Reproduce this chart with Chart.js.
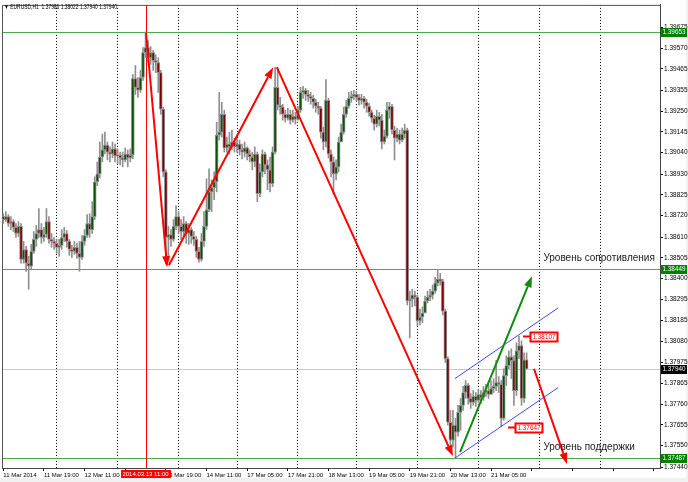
<!DOCTYPE html>
<html>
<head>
<meta charset="utf-8">
<style>
  html, body { margin: 0; padding: 0; background: #fff; }
  canvas { display: block; }
</style>
<script src="https://cdn.jsdelivr.net/npm/chart.js@4.4.1/dist/chart.umd.min.js"></script>
</head>
<body>
<canvas id="chart" width="688" height="482"></canvas>
<script>
// EURUSD H1, 11 Mar 2014 03:00 .. 21 Mar 2014 17:00, one entry per hourly bar
const symbolTitle = '\u25BC EURUSD,H1  1.37986 1.38022 1.37940 1.37940';

const opens = [
  1.38714, 1.38699, 1.38714, 1.38679, 1.38689, 1.38659, 1.38628, 1.38664, 1.38497, 1.38547,
  1.38477, 1.38462, 1.38537, 1.38598, 1.38628, 1.38648, 1.38608, 1.38623, 1.38689, 1.38598,
  1.38588, 1.38578, 1.38558, 1.38568, 1.38608, 1.38628, 1.38588, 1.38547, 1.38537, 1.38558,
  1.38527, 1.38507, 1.38588, 1.38618, 1.38679, 1.38648, 1.38714, 1.38891, 1.38931, 1.39017,
  1.39053, 1.39078, 1.39042, 1.39032, 1.39058, 1.39022, 1.39027, 1.39012, 1.39002, 1.39032,
  1.39012, 1.39027, 1.39416, 1.39371, 1.39356, 1.39421, 1.39547, 1.39573, 1.39522, 1.39547,
  1.39507, 1.39497, 1.39446, 1.39260, 1.38941, 1.38608, 1.38623, 1.38598, 1.38664, 1.38714,
  1.38664, 1.38638, 1.38679, 1.38628, 1.38648, 1.38613, 1.38598, 1.38537, 1.38497, 1.38588,
  1.38664, 1.38749, 1.38840, 1.38861, 1.38891, 1.39128, 1.39143, 1.39234, 1.39063, 1.39083,
  1.39068, 1.39093, 1.39068, 1.39083, 1.39053, 1.39042, 1.39063, 1.39032, 1.39017, 1.38992,
  1.39032, 1.38830, 1.38941, 1.39032, 1.38977, 1.38952, 1.38881, 1.39042, 1.39371, 1.39280,
  1.39270, 1.39234, 1.39214, 1.39234, 1.39204, 1.39224, 1.39209, 1.39255, 1.39345, 1.39356,
  1.39335, 1.39325, 1.39315, 1.39295, 1.39275, 1.39265, 1.39143, 1.39093, 1.39305, 1.39032,
  1.38992, 1.38931, 1.38967, 1.39093, 1.39143, 1.39234, 1.39275, 1.39315, 1.39325, 1.39335,
  1.39320, 1.39305, 1.39315, 1.39295, 1.39275, 1.39244, 1.39214, 1.39184, 1.39224, 1.39204,
  1.39093, 1.39123, 1.39255, 1.39275, 1.39154, 1.39113, 1.39133, 1.39103, 1.39133, 1.39154,
  1.38285, 1.38295, 1.38315, 1.38305, 1.38184, 1.38204, 1.38224, 1.38285, 1.38305, 1.38315,
  1.38335, 1.38376, 1.38396, 1.38386, 1.38234, 1.37992, 1.37669, 1.37578, 1.37654, 1.37618,
  1.37719, 1.37755, 1.37820, 1.37856, 1.37790, 1.37770, 1.37800, 1.37780, 1.37810, 1.37795,
  1.37820, 1.37830, 1.37810, 1.37840, 1.37851, 1.37871, 1.37861, 1.37689, 1.37906, 1.37957,
  1.38002, 1.37982, 1.37830, 1.38032, 1.38058, 1.37790, 1.37986
];
const highs = [
  1.38729, 1.38739, 1.38724, 1.38714, 1.38699, 1.38679, 1.38689, 1.38679, 1.38588, 1.38563,
  1.38512, 1.38573, 1.38638, 1.38669, 1.38755, 1.38679, 1.38659, 1.38755, 1.38714, 1.38628,
  1.38608, 1.38598, 1.38598, 1.38648, 1.38659, 1.38643, 1.38598, 1.38568, 1.38588, 1.38578,
  1.38588, 1.38618, 1.38648, 1.38724, 1.38729, 1.38790, 1.38916, 1.38992, 1.39093, 1.39133,
  1.39143, 1.39093, 1.39068, 1.39093, 1.39083, 1.39058, 1.39042, 1.39042, 1.39063, 1.39053,
  1.39058, 1.39436, 1.39482, 1.39421, 1.39457, 1.39573, 1.39653, 1.39608, 1.39578, 1.39558,
  1.39537, 1.39522, 1.39457, 1.39270, 1.38952, 1.38664, 1.38648, 1.38699, 1.38770, 1.38739,
  1.38699, 1.38714, 1.38689, 1.38679, 1.38659, 1.38638, 1.38613, 1.38558, 1.38628, 1.38739,
  1.38906, 1.38957, 1.38901, 1.38941, 1.39194, 1.39345, 1.39295, 1.39255, 1.39118, 1.39143,
  1.39154, 1.39113, 1.39113, 1.39103, 1.39083, 1.39093, 1.39068, 1.39053, 1.39042, 1.39068,
  1.39042, 1.38982, 1.39053, 1.39042, 1.39002, 1.39017, 1.39068, 1.39472, 1.39472, 1.39320,
  1.39285, 1.39255, 1.39265, 1.39255, 1.39255, 1.39244, 1.39275, 1.39371, 1.39376, 1.39366,
  1.39356, 1.39345, 1.39330, 1.39310, 1.39295, 1.39275, 1.39169, 1.39411, 1.39315, 1.39053,
  1.39017, 1.39002, 1.39118, 1.39184, 1.39270, 1.39305, 1.39345, 1.39351, 1.39356, 1.39351,
  1.39335, 1.39335, 1.39325, 1.39310, 1.39290, 1.39255, 1.39229, 1.39255, 1.39244, 1.39234,
  1.39154, 1.39295, 1.39295, 1.39285, 1.39174, 1.39164, 1.39154, 1.39164, 1.39184, 1.39164,
  1.38335, 1.38345, 1.38335, 1.38315, 1.38244, 1.38255, 1.38310, 1.38335, 1.38345, 1.38366,
  1.38406, 1.38446, 1.38426, 1.38396, 1.38244, 1.38002, 1.37729, 1.37729, 1.37689, 1.37755,
  1.37790, 1.37851, 1.37881, 1.37866, 1.37815, 1.37830, 1.37820, 1.37835, 1.37830, 1.37851,
  1.37861, 1.37861, 1.37881, 1.37891, 1.37982, 1.37901, 1.37881, 1.37941, 1.38007, 1.38032,
  1.38042, 1.38007, 1.38073, 1.38107, 1.38083, 1.38022, 1.38022
];
const lows = [
  1.38679, 1.38689, 1.38664, 1.38648, 1.38638, 1.38608, 1.38613, 1.38477, 1.38477, 1.38436,
  1.38345, 1.38446, 1.38527, 1.38563, 1.38608, 1.38578, 1.38588, 1.38608, 1.38578, 1.38558,
  1.38547, 1.38527, 1.38512, 1.38547, 1.38588, 1.38558, 1.38517, 1.38507, 1.38522, 1.38502,
  1.38436, 1.38497, 1.38568, 1.38608, 1.38608, 1.38628, 1.38699, 1.38871, 1.38911, 1.38992,
  1.39032, 1.39002, 1.38992, 1.39012, 1.38992, 1.38982, 1.38977, 1.38967, 1.38992, 1.38967,
  1.38992, 1.39007, 1.39335, 1.39320, 1.39345, 1.39406, 1.39522, 1.39497, 1.39487, 1.39457,
  1.39446, 1.39345, 1.39234, 1.38916, 1.38472, 1.38512, 1.38563, 1.38588, 1.38648, 1.38628,
  1.38598, 1.38613, 1.38578, 1.38573, 1.38578, 1.38568, 1.38507, 1.38482, 1.38487, 1.38563,
  1.38648, 1.38739, 1.38739, 1.38800, 1.38840, 1.39103, 1.39118, 1.39042, 1.39042, 1.39032,
  1.39053, 1.39042, 1.39042, 1.39027, 1.39007, 1.39017, 1.39002, 1.38992, 1.38952, 1.38967,
  1.38790, 1.38815, 1.38916, 1.38931, 1.38851, 1.38840, 1.38866, 1.39032, 1.39255, 1.39234,
  1.39204, 1.39194, 1.39204, 1.39184, 1.39194, 1.39184, 1.39204, 1.39244, 1.39315, 1.39305,
  1.39300, 1.39285, 1.39265, 1.39244, 1.39234, 1.39113, 1.39053, 1.39068, 1.39012, 1.38916,
  1.38825, 1.38901, 1.38941, 1.39093, 1.39133, 1.39219, 1.39265, 1.39295, 1.39310, 1.39300,
  1.39280, 1.39285, 1.39265, 1.39244, 1.39224, 1.39194, 1.39154, 1.39169, 1.39174, 1.39058,
  1.39083, 1.39113, 1.39214, 1.39133, 1.39002, 1.39093, 1.39083, 1.39093, 1.39113, 1.38265,
  1.38098, 1.38255, 1.38260, 1.38159, 1.38164, 1.38174, 1.38224, 1.38275, 1.38285, 1.38295,
  1.38325, 1.38361, 1.38366, 1.38214, 1.37972, 1.37654, 1.37553, 1.37542, 1.37487, 1.37598,
  1.37628, 1.37729, 1.37790, 1.37760, 1.37739, 1.37755, 1.37749, 1.37770, 1.37765, 1.37780,
  1.37800, 1.37790, 1.37810, 1.37820, 1.37830, 1.37820, 1.37647, 1.37679, 1.37856, 1.37941,
  1.37891, 1.37755, 1.37805, 1.37992, 1.37755, 1.37770, 1.37940
];
const closes = [
  1.38699, 1.38714, 1.38679, 1.38689, 1.38659, 1.38628, 1.38664, 1.38497, 1.38547, 1.38477,
  1.38462, 1.38537, 1.38598, 1.38628, 1.38648, 1.38608, 1.38623, 1.38689, 1.38598, 1.38588,
  1.38578, 1.38558, 1.38568, 1.38608, 1.38628, 1.38588, 1.38547, 1.38537, 1.38558, 1.38527,
  1.38507, 1.38588, 1.38618, 1.38679, 1.38648, 1.38714, 1.38891, 1.38931, 1.39017, 1.39053,
  1.39078, 1.39042, 1.39032, 1.39058, 1.39022, 1.39027, 1.39012, 1.39002, 1.39032, 1.39012,
  1.39027, 1.39416, 1.39371, 1.39356, 1.39421, 1.39547, 1.39573, 1.39522, 1.39547, 1.39507,
  1.39497, 1.39446, 1.39260, 1.38941, 1.38608, 1.38623, 1.38598, 1.38664, 1.38714, 1.38664,
  1.38638, 1.38679, 1.38628, 1.38648, 1.38613, 1.38598, 1.38537, 1.38497, 1.38588, 1.38664,
  1.38749, 1.38840, 1.38861, 1.38891, 1.39128, 1.39143, 1.39234, 1.39063, 1.39083, 1.39068,
  1.39093, 1.39068, 1.39083, 1.39053, 1.39042, 1.39063, 1.39032, 1.39017, 1.38992, 1.39032,
  1.38830, 1.38941, 1.39032, 1.38977, 1.38952, 1.38881, 1.39042, 1.39371, 1.39280, 1.39270,
  1.39234, 1.39214, 1.39234, 1.39204, 1.39224, 1.39209, 1.39255, 1.39345, 1.39356, 1.39335,
  1.39325, 1.39315, 1.39295, 1.39275, 1.39265, 1.39143, 1.39093, 1.39305, 1.39032, 1.38992,
  1.38931, 1.38967, 1.39093, 1.39143, 1.39234, 1.39275, 1.39315, 1.39325, 1.39335, 1.39320,
  1.39305, 1.39315, 1.39295, 1.39275, 1.39244, 1.39214, 1.39184, 1.39224, 1.39204, 1.39093,
  1.39123, 1.39255, 1.39275, 1.39154, 1.39113, 1.39133, 1.39103, 1.39133, 1.39154, 1.38285,
  1.38295, 1.38315, 1.38305, 1.38184, 1.38204, 1.38224, 1.38285, 1.38305, 1.38315, 1.38335,
  1.38376, 1.38396, 1.38386, 1.38234, 1.37992, 1.37669, 1.37578, 1.37654, 1.37618, 1.37719,
  1.37755, 1.37820, 1.37856, 1.37790, 1.37770, 1.37800, 1.37780, 1.37810, 1.37795, 1.37820,
  1.37830, 1.37810, 1.37840, 1.37851, 1.37871, 1.37861, 1.37689, 1.37906, 1.37957, 1.38002,
  1.37982, 1.37830, 1.38032, 1.38058, 1.37790, 1.37986, 1.37940
];

// empty hourly slots to the right of the last bar (chart shift)
const futureSlots = 52;
const categories = Array.from({ length: closes.length + futureSlots }, (_, i) => i);

// time scale: a label every 16 bars
const xTickStep = 16;
const xTickLabels = [
  '11 Mar 2014', '11 Mar 19:00', '12 Mar 11:00', '13 Mar 03:00', '13 Mar 19:00',
  '14 Mar 11:00', '17 Mar 05:00', '17 Mar 21:00', '18 Mar 13:00', '19 Mar 05:00',
  '19 Mar 21:00', '20 Mar 13:00', '21 Mar 05:00'
];
const xGridBars = [21, 45, 69, 92, 116, 139, 163, 187, 211, 235];

const yTickLabels = [
  1.39675, 1.39570, 1.39465, 1.39355, 1.39250, 1.39145, 1.39040, 1.38930, 1.38825, 1.38720, 1.38610,
  1.38505, 1.38400, 1.38295, 1.38185, 1.38080, 1.37975, 1.37865, 1.37760, 1.37655, 1.37550, 1.37440
];
const yMin = 1.374364;
const yMax = 1.397899;

// objects drawn on the chart, in (bar, price)
const levelLines = [1.39653, 1.38449, 1.37487];
const bidPrice = 1.37940;
const markerBar = 56;
const markerLabel = '2014.03.13 11:00';
const redArrows = [
  [[56.2, 1.39648], [64.5, 1.38457]],
  [[65.2, 1.38467], [106.2, 1.39472]],
  [[107.7, 1.39472], [177.0, 1.37497]],
  [[208.9, 1.37941], [221.9, 1.37457]]
];
const greenArrow = [[179.8, 1.37517], [208.1, 1.38411]];
const channelLines = [
  [[177.8, 1.37891], [218.4, 1.38250]],
  [[177.8, 1.37487], [218.4, 1.37845]]
];
const priceTags = [
  { bar: 204.6, value: 1.38107 },
  { bar: 198.7, value: 1.37647 }
];
const notes = [
  { bar: 212.6, value: 1.38487, text: 'Уровень сопротивления' },
  { bar: 212.6, value: 1.37527, text: 'Уровень поддержки' }
];

const bullColor = '#0b530b';
const bearColor = '#800000';
const barGray = '#8f8f8f';
const levelGreen = '#4aab4a';
const narrow = "'Liberation Sans Narrow', 'Liberation Sans', Arial, sans-serif";
const sans = "'Liberation Sans', Arial, sans-serif";

function drawArrow(ctx, x1, y1, x2, y2, color) {
  const a = Math.atan2(y2 - y1, x2 - x1);
  const len = 11, half = 4;
  const bx = x2 - len * Math.cos(a), by = y2 - len * Math.sin(a);
  ctx.strokeStyle = color;
  ctx.lineWidth = 2;
  ctx.beginPath();
  ctx.moveTo(x1, y1);
  ctx.lineTo(bx, by);
  ctx.stroke();
  ctx.fillStyle = color;
  ctx.beginPath();
  ctx.moveTo(x2, y2);
  ctx.lineTo(bx + half * Math.sin(a), by - half * Math.cos(a));
  ctx.lineTo(bx - half * Math.sin(a), by + half * Math.cos(a));
  ctx.closePath();
  ctx.fill();
}

const terminalPlugin = {
  id: 'terminal',
  beforeDraw(chart) {
    const ctx = chart.ctx;
    ctx.save();
    ctx.fillStyle = '#fff';
    ctx.fillRect(0, 0, chart.width, chart.height);
    ctx.fillStyle = '#f0f0f0';
    ctx.fillRect(0, 478, chart.width, chart.height - 478);
    ctx.fillRect(686, 0, 2, chart.height);
    ctx.restore();
  },
  beforeDatasetsDraw(chart) {
    const { ctx, chartArea: a, scales: { x, y } } = chart;
    ctx.save();
    ctx.lineWidth = 1;
    levelLines.forEach(v => {
      const py = Math.round(y.getPixelForValue(v)) + 0.5;
      ctx.strokeStyle = levelGreen;
      ctx.beginPath(); ctx.moveTo(a.left, py); ctx.lineTo(a.right, py); ctx.stroke();
    });
    const by = Math.round(y.getPixelForValue(bidPrice)) + 0.5;
    ctx.strokeStyle = '#c8c8c8';
    ctx.beginPath(); ctx.moveTo(a.left, by); ctx.lineTo(a.right, by); ctx.stroke();
    const mx = Math.round(x.getPixelForValue(markerBar)) + 0.5;
    ctx.strokeStyle = '#ff0000';
    ctx.beginPath(); ctx.moveTo(mx, a.top); ctx.lineTo(mx, a.bottom); ctx.stroke();
    // left and top frame
    ctx.strokeStyle = '#555';
    ctx.beginPath();
    ctx.moveTo(a.left + 0.5, a.bottom); ctx.lineTo(a.left + 0.5, a.top + 0.5); ctx.lineTo(a.right, a.top + 0.5);
    ctx.stroke();
    ctx.restore();
  },
  afterDatasetsDraw(chart) {
    const { ctx, scales: { x, y } } = chart;
    const pt = p => [x.getPixelForValue(p[0]), y.getPixelForValue(p[1])];
    ctx.save();
    ctx.strokeStyle = '#4646ff';
    ctx.lineWidth = 1;
    channelLines.forEach(([p1, p2]) => {
      const [x1, y1] = pt(p1), [x2, y2] = pt(p2);
      ctx.beginPath(); ctx.moveTo(x1, y1); ctx.lineTo(x2, y2); ctx.stroke();
    });
    redArrows.forEach(([p1, p2]) => {
      const [x1, y1] = pt(p1), [x2, y2] = pt(p2);
      drawArrow(ctx, x1, y1, x2, y2, '#ff0000');
    });
    {
      const [x1, y1] = pt(greenArrow[0]), [x2, y2] = pt(greenArrow[1]);
      drawArrow(ctx, x1, y1, x2, y2, '#108a10');
    }
    // price tags
    ctx.font = '6.5px ' + sans;
    ctx.textBaseline = 'middle';
    ctx.textAlign = 'left';
    priceTags.forEach(t => {
      const px = Math.round(x.getPixelForValue(t.bar));
      const py = Math.round(y.getPixelForValue(t.value));
      ctx.strokeStyle = '#ff0000';
      ctx.beginPath(); ctx.moveTo(px, py + 0.5); ctx.lineTo(px + 7, py + 0.5); ctx.stroke();
      ctx.fillStyle = '#fff';
      ctx.fillRect(px + 7, py - 4, 27, 9);
      ctx.strokeRect(px + 7.5, py - 3.5, 27, 9);
      ctx.fillStyle = '#ff0000';
      ctx.fillText(t.value.toFixed(5), px + 9.5, py + 1, 23);
    });
    // text labels
    ctx.font = '10px ' + sans;
    ctx.textBaseline = 'alphabetic';
    ctx.fillStyle = '#1a1a1a';
    notes.forEach(n => {
      ctx.fillText(n.text, x.getPixelForValue(n.bar), y.getPixelForValue(n.value));
    });
    // symbol header
    ctx.font = '6.5px ' + narrow;
    ctx.textBaseline = 'middle';
    ctx.fillStyle = '#000';
    ctx.fillText(symbolTitle, 4, 7, 113);
    ctx.restore();
  },
  afterDraw(chart) {
    const { ctx, scales: { x, y } } = chart;
    ctx.save();
    ctx.font = '6.5px ' + sans;
    ctx.textBaseline = 'middle';
    ctx.textAlign = 'left';
    const boxes = levelLines.map(v => [v, '#008000']).concat([[bidPrice, '#000']]);
    boxes.forEach(([v, c]) => {
      const py = Math.round(y.getPixelForValue(v));
      ctx.fillStyle = c;
      ctx.fillRect(661, py - 4, 26, 9);
      ctx.fillStyle = '#fff';
      ctx.fillText(v.toFixed(5), 662.5, py + 0.5, 23);
    });
    const mx = x.getPixelForValue(markerBar);
    ctx.fillStyle = '#ff0000';
    ctx.fillRect(Math.round(mx) - 25, 470, 50, 8);
    ctx.fillStyle = '#fff';
    ctx.font = '6px ' + narrow;
    ctx.textAlign = 'center';
    ctx.fillText(markerLabel, mx, 474.5, 47);
    ctx.restore();
  }
};

new Chart(document.getElementById('chart').getContext('2d'), {
  type: 'bar',
  data: {
    labels: categories,
    datasets: [
      {
        label: 'body',
        data: opens.map((o, i) => [o, closes[i]]),
        backgroundColor: closes.map((c, i) => c >= opens[i] ? bullColor : bearColor),
        borderColor: barGray,
        borderWidth: 1,
        borderSkipped: false,
        barThickness: 3,
        minBarLength: 1,
        grouped: false,
        order: 0
      },
      {
        label: 'wick',
        data: lows.map((l, i) => [l, highs[i]]),
        backgroundColor: barGray,
        barThickness: 1,
        grouped: false,
        order: 1
      }
    ]
  },
  options: {
    responsive: false,
    animation: false,
    devicePixelRatio: 1,
    events: [],
    layout: { padding: { left: 2, top: 2, right: 0, bottom: 0 } },
    plugins: { legend: { display: false }, tooltip: { enabled: false } },
    scales: {
      x: {
        type: 'category',
        offset: true,
        grid: {
          offset: false,
          drawOnChartArea: true,
          color: c => xGridBars.includes(c.index) ? '#000' : 'rgba(0,0,0,0)',
          tickColor: c => c.index % xTickStep === 0 ? '#000' : 'rgba(0,0,0,0)',
          tickLength: 3
        },
        border: { display: true, color: '#444', dash: [1, 2] },
        ticks: {
          autoSkip: false,
          maxRotation: 0,
          minRotation: 0,
          align: 'start',
          padding: 1,
          color: '#000',
          font: { family: narrow, size: 6 },
          callback: (v, i) => i % xTickStep === 0 ? (xTickLabels[i / xTickStep] || '') : ''
        },
        afterFit: s => { s.height = 14; }
      },
      y: {
        position: 'right',
        min: yMin,
        max: yMax,
        bounds: 'data',
        afterBuildTicks: s => { s.ticks = yTickLabels.map(v => ({ value: v })); },
        grid: { drawOnChartArea: false, tickLength: 3, tickColor: '#000' },
        border: { display: true, color: '#444' },
        ticks: {
          autoSkip: false,
          padding: 1,
          color: '#000',
          font: { family: sans, size: 6.5 },
          callback: v => v.toFixed(5)
        },
        afterFit: s => { s.width = 28; }
      }
    }
  },
  plugins: [terminalPlugin]
});
</script>
</body>
</html>
